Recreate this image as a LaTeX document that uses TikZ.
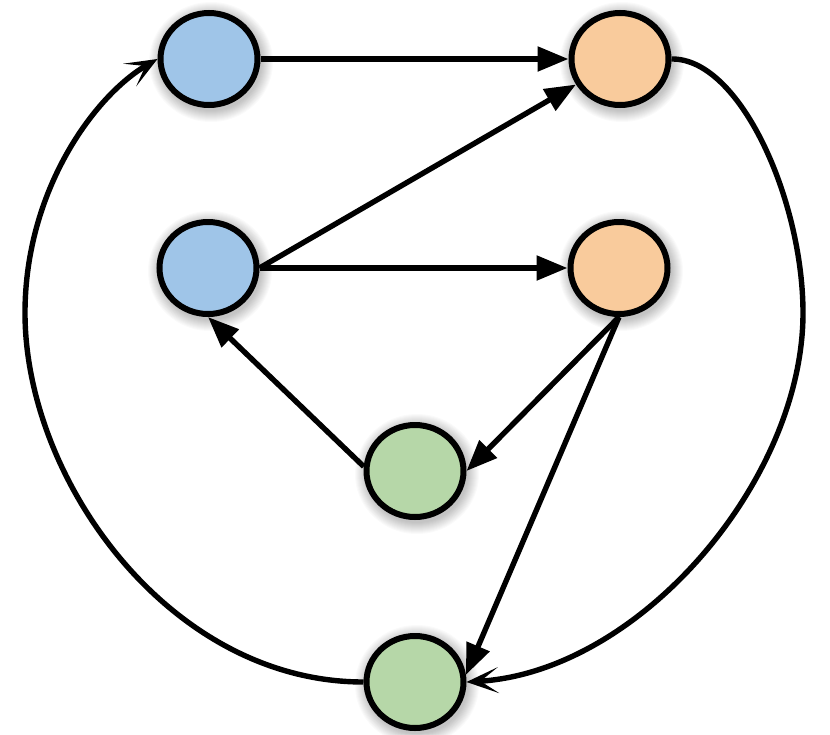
\documentclass[tikz,border=0pt]{standalone}
\usetikzlibrary{arrows.meta,shapes.geometric}
\definecolor{nblue}{HTML}{9FC5E8}
\definecolor{norange}{HTML}{F9CB9C}
\definecolor{ngreen}{HTML}{B6D7A8}
\begin{document}
\begin{tikzpicture}[x=1pt,y=-1pt,
  vert/.style={ellipse, draw=black, line width=6pt, minimum width=97pt, minimum height=92pt, inner sep=0pt},
  sedge/.style={line width=5.4pt, -{Triangle[length=31pt,width=24pt]}},
  cedge/.style={line width=5.4pt, -{Stealth[length=32pt,width=26pt,inset=18pt]}},
  shade/.style={black, opacity=0.02}]
\fill[white] (0,0) rectangle (830,734);
\useasboundingbox (0,0) rectangle (830,734);
\coordinate (pA) at (209,59);
\coordinate (pB) at (620,59);
\coordinate (pC) at (208,268);
\coordinate (pD) at (619,268);
\coordinate (pE) at (415,471);
\coordinate (pF) at (415,682);
\coordinate (l) at (25,313);
\coordinate (r) at (803,313);
\foreach \p in {pA,pB,pC,pD,pE,pF}{
  \foreach \k [evaluate=\k as \rx using 50+\k, evaluate=\k as \ry using 48+\k] in {1,...,12}{
    \fill[shade] (\p) ++(2,3) ellipse [x radius=\rx pt, y radius=\ry pt];
  }
}
\node[vert, fill=nblue] (A) at (pA) {};
\node[vert, fill=norange] (B) at (pB) {};
\node[vert, fill=nblue] (C) at (pC) {};
\node[vert, fill=norange] (D) at (pD) {};
\node[vert, fill=ngreen] (E) at (pE) {};
\node[vert, fill=ngreen] (F) at (pF) {};
\draw[sedge] (A.east) -- (B.west);
\draw[sedge] (C.east) -- (B);
\draw[sedge] (C.east) -- (D.west);
\draw[sedge] (E.175) -- (C.south);
\draw[sedge] (D.south) -- (E.east);
\draw[sedge] (D.south) -- (F.8);
\draw[cedge] (B.east) .. controls (740,58) and (803,200) .. (r) .. controls (803,480) and (640,672) .. (F.east);
\draw[cedge] (F.west) .. controls (170,682) and (25,480) .. (l) .. controls (25,190) and (95,95) .. (A.west);
\end{tikzpicture}
\end{document}
